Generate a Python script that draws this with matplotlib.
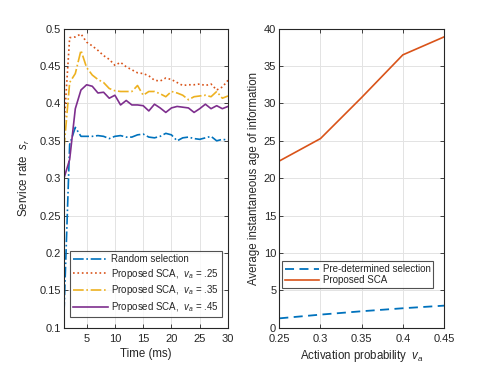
import matplotlib
matplotlib.use("Agg")
import matplotlib.pyplot as plt
import numpy as np

plt.rcParams['font.family'] = ['Liberation Sans', 'DejaVu Sans']
plt.rcParams['mathtext.fontset'] = 'custom'
plt.rcParams['mathtext.it'] = 'Liberation Sans:italic'
plt.rcParams['mathtext.rm'] = 'Liberation Sans'

# ---- data: left panel ----
time_ms = list(range(1, 31))
random_sel = [0.120, 0.345, 0.368, 0.356, 0.356, 0.356, 0.357, 0.356, 0.353, 0.356,
              0.357, 0.355, 0.355, 0.358, 0.359, 0.355, 0.354, 0.356, 0.360, 0.358,
              0.350, 0.354, 0.355, 0.353, 0.352, 0.354, 0.356, 0.350, 0.352, 0.351]
sca_25 = [0.370, 0.488, 0.489, 0.493, 0.482, 0.477, 0.471, 0.464, 0.459, 0.451,
          0.455, 0.449, 0.445, 0.441, 0.440, 0.437, 0.431, 0.430, 0.434, 0.432,
          0.428, 0.424, 0.425, 0.425, 0.426, 0.424, 0.426, 0.418, 0.422, 0.431]
sca_35 = [0.340, 0.428, 0.440, 0.471, 0.448, 0.438, 0.432, 0.428, 0.420, 0.417,
          0.416, 0.416, 0.416, 0.424, 0.411, 0.416, 0.416, 0.413, 0.409, 0.416,
          0.414, 0.411, 0.405, 0.409, 0.410, 0.411, 0.409, 0.416, 0.407, 0.410]
sca_45 = [0.300, 0.325, 0.393, 0.418, 0.425, 0.423, 0.414, 0.415, 0.407, 0.411,
          0.398, 0.404, 0.398, 0.398, 0.397, 0.390, 0.399, 0.394, 0.388, 0.394,
          0.396, 0.395, 0.394, 0.388, 0.393, 0.399, 0.393, 0.397, 0.393, 0.396]

# ---- data: right panel ----
activation_prob = [0.25, 0.30, 0.35, 0.40, 0.45]
predetermined = [1.25, 1.75, 2.2, 2.6, 2.95]
proposed_sca = [22.3, 25.3, 30.8, 36.5, 38.9]

left_yticks = [0.1, 0.15, 0.2, 0.25, 0.3, 0.35, 0.4, 0.45, 0.5]
left_yticklabels = ['0.1', '0.15', '0.2', '0.25', '0.3', '0.35', '0.4', '0.45', '0.5']
left_xticks = [5, 10, 15, 20, 25, 30]
right_xticks = [0.25, 0.3, 0.35, 0.4, 0.45]
right_xticklabels = ['0.25', '0.3', '0.35', '0.4', '0.45']
right_yticks = [0, 5, 10, 15, 20, 25, 30, 35, 40]

C_BLUE = '#0072BD'
C_ORANGE = '#D95319'
C_YELLOW = '#EDB120'
C_PURPLE = '#7E2F8E'
TXT = '#262626'

fig = plt.figure(figsize=(4.91, 3.68), dpi=100)
ax1 = fig.add_axes([64/491, 40.3/368, 164/491, 299/368])
ax2 = fig.add_axes([279.3/491, 40.3/368, 164.7/491, 299/368])

LABEL_FS = 8.3
LEG_FS = 7.0

def style(ax):
    ax.grid(True, color='#e3e3e3', linewidth=0.7)
    ax.set_axisbelow(True)
    for s in ax.spines.values():
        s.set_color(TXT)
        s.set_linewidth(0.8)
    ax.tick_params(direction='in', top=True, right=True, colors=TXT,
                   labelsize=8, length=3, width=0.6)
    ax.tick_params(axis='x', pad=4.5)
    ax.tick_params(axis='y', pad=2.2)

lw = 1.2
ax1.plot(time_ms, random_sel, color=C_BLUE, ls='-.', lw=lw, label='Random selection')
ax1.plot(time_ms, sca_25, color=C_ORANGE, ls=':', lw=lw, label=r'Proposed SCA,  $v_a$ = .25')
ax1.plot(time_ms, sca_35, color=C_YELLOW, ls='-.', lw=lw, label=r'Proposed SCA,  $v_a$ = .35')
ax1.plot(time_ms, sca_45, color=C_PURPLE, ls='-', lw=lw, label=r'Proposed SCA,  $v_a$ = .45')
ax1.set_xlim(1, 30)
ax1.set_ylim(0.1, 0.5)
ax1.set_xticks(left_xticks)
ax1.set_yticks(left_yticks)
ax1.set_yticklabels(left_yticklabels)
style(ax1)
ax1.set_xlabel('Time (ms)', fontsize=LABEL_FS, color=TXT, labelpad=3)
ax1.set_ylabel(r'Service rate  $s_r$', fontsize=LABEL_FS, color=TXT, labelpad=5)
leg1 = ax1.legend(loc='lower right', bbox_to_anchor=(1 - 6.3/164, 10.7/299),
                  borderaxespad=0, fontsize=LEG_FS, frameon=True, fancybox=False,
                  edgecolor=TXT, handlelength=3.6, handletextpad=0.35,
                  labelspacing=0.28, borderpad=0.3)
leg1.get_frame().set_linewidth(0.8)
for t in leg1.get_texts():
    t.set_color(TXT)

ax2.plot(activation_prob, predetermined, color=C_BLUE, ls='--', lw=1.3,
         dashes=(5, 3), label='Pre-determined selection')
ax2.plot(activation_prob, proposed_sca, color=C_ORANGE, ls='-', lw=1.2, label='Proposed SCA')
ax2.set_xlim(0.25, 0.45)
ax2.set_ylim(0, 40)
ax2.set_xticks(right_xticks)
ax2.set_xticklabels(right_xticklabels)
ax2.set_yticks(right_yticks)
style(ax2)
ax2.set_xlabel(r'Activation probability  $v_a$', fontsize=LABEL_FS, color=TXT, labelpad=3)
ax2.set_ylabel('Average instantaneous age of information', fontsize=LABEL_FS,
               color=TXT, labelpad=3)
leg2 = ax2.legend(loc='lower right', bbox_to_anchor=(1 - 10.7/164.7, 39.4/299),
                  borderaxespad=0, fontsize=LEG_FS, frameon=True, fancybox=False,
                  edgecolor=TXT, handlelength=3.5, handletextpad=0.4,
                  labelspacing=0.12, borderpad=0.3)
leg2.get_frame().set_linewidth(0.8)
for t in leg2.get_texts():
    t.set_color(TXT)

fig.savefig('out.png', dpi=100)
